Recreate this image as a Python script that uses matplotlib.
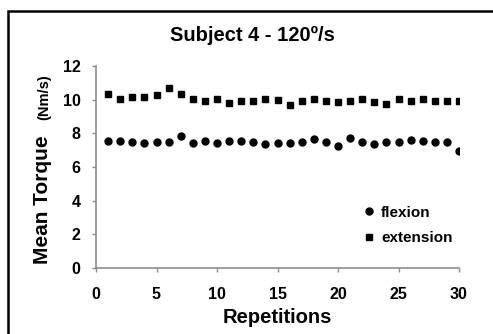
import matplotlib.pyplot as plt
from matplotlib.patches import Rectangle

plt.rcParams['font.family'] = ['Liberation Sans', 'DejaVu Sans']

# data
reps = list(range(1, 31))
flexion = [7.53, 7.53, 7.48, 7.42, 7.48, 7.48, 7.86, 7.42, 7.57, 7.42,
           7.57, 7.57, 7.48, 7.34, 7.42, 7.42, 7.48, 7.67, 7.48, 7.24,
           7.71, 7.48, 7.34, 7.48, 7.48, 7.61, 7.57, 7.48, 7.48, 6.95]
extension = [10.33, 10.06, 10.14, 10.14, 10.25, 10.72, 10.33, 10.06, 9.94, 10.06,
             9.81, 9.90, 9.90, 10.06, 9.96, 9.71, 9.95, 10.04, 9.94, 9.84,
             9.90, 10.04, 9.84, 9.75, 10.04, 9.90, 10.04, 9.90, 9.90, 9.90]

W, H = 493, 334
fig = plt.figure(figsize=(W / 100, H / 100), dpi=100)
ax = fig.add_axes([96 / W, 66 / H, 363 / W, 202 / H])

ax.plot(reps, flexion, 'o', color='black', markersize=5, label='flexion')
ax.plot(reps, extension, 's', color='black', markersize=5, label='extension')

ax.set_xlim(0, 30)
ax.set_ylim(0, 12)
ax.set_xticks(range(0, 31, 5))
ax.set_yticks(range(0, 13, 2))

for side in ['top', 'right']:
    ax.spines[side].set_visible(False)
for side in ['left', 'bottom']:
    ax.spines[side].set_color('#8c8c8c')
    ax.spines[side].set_linewidth(1.2)
ax.tick_params(color='#8c8c8c', width=1.0, length=3, labelsize=11.5, pad=8)
ax.tick_params(axis='x', pad=11)
for lab in ax.get_xticklabels() + ax.get_yticklabels():
    lab.set_fontweight('bold')

ax.set_xlabel('Repetitions', fontsize=14.5, fontweight='bold', labelpad=4)

# title sits a little left of the axes centre
fig.text(252 / W, 1 - 41 / H, 'Subject 4 - 120\u00ba/s', fontsize=14.5,
         fontweight='bold', ha='center', va='baseline')

# y label in two sizes
fig.text(43 / W, 1 - 200 / H, 'Mean Torque', rotation=90, fontsize=15,
         fontweight='bold', ha='center', va='center')
fig.text(44 / W, 1 - 97 / H, '(Nm/s)', rotation=90, fontsize=10.5,
         fontweight='bold', ha='center', va='center')

ax.legend(loc='upper left', bbox_to_anchor=(352 / W, 1 - 198 / H),
          bbox_transform=fig.transFigure, frameon=False,
          prop={'weight': 'bold', 'size': 11}, handletextpad=0.2,
          handlelength=1.2, labelspacing=0.75, borderpad=0)

# outer frame (only left and top edges fall inside the image)
fig.patches.append(Rectangle((8 / W, -0.1), 1.2, 1 - 11 / H + 0.1,
                             transform=fig.transFigure, fill=False,
                             edgecolor='black', linewidth=1.8))

fig.savefig('out.png', dpi=100)
